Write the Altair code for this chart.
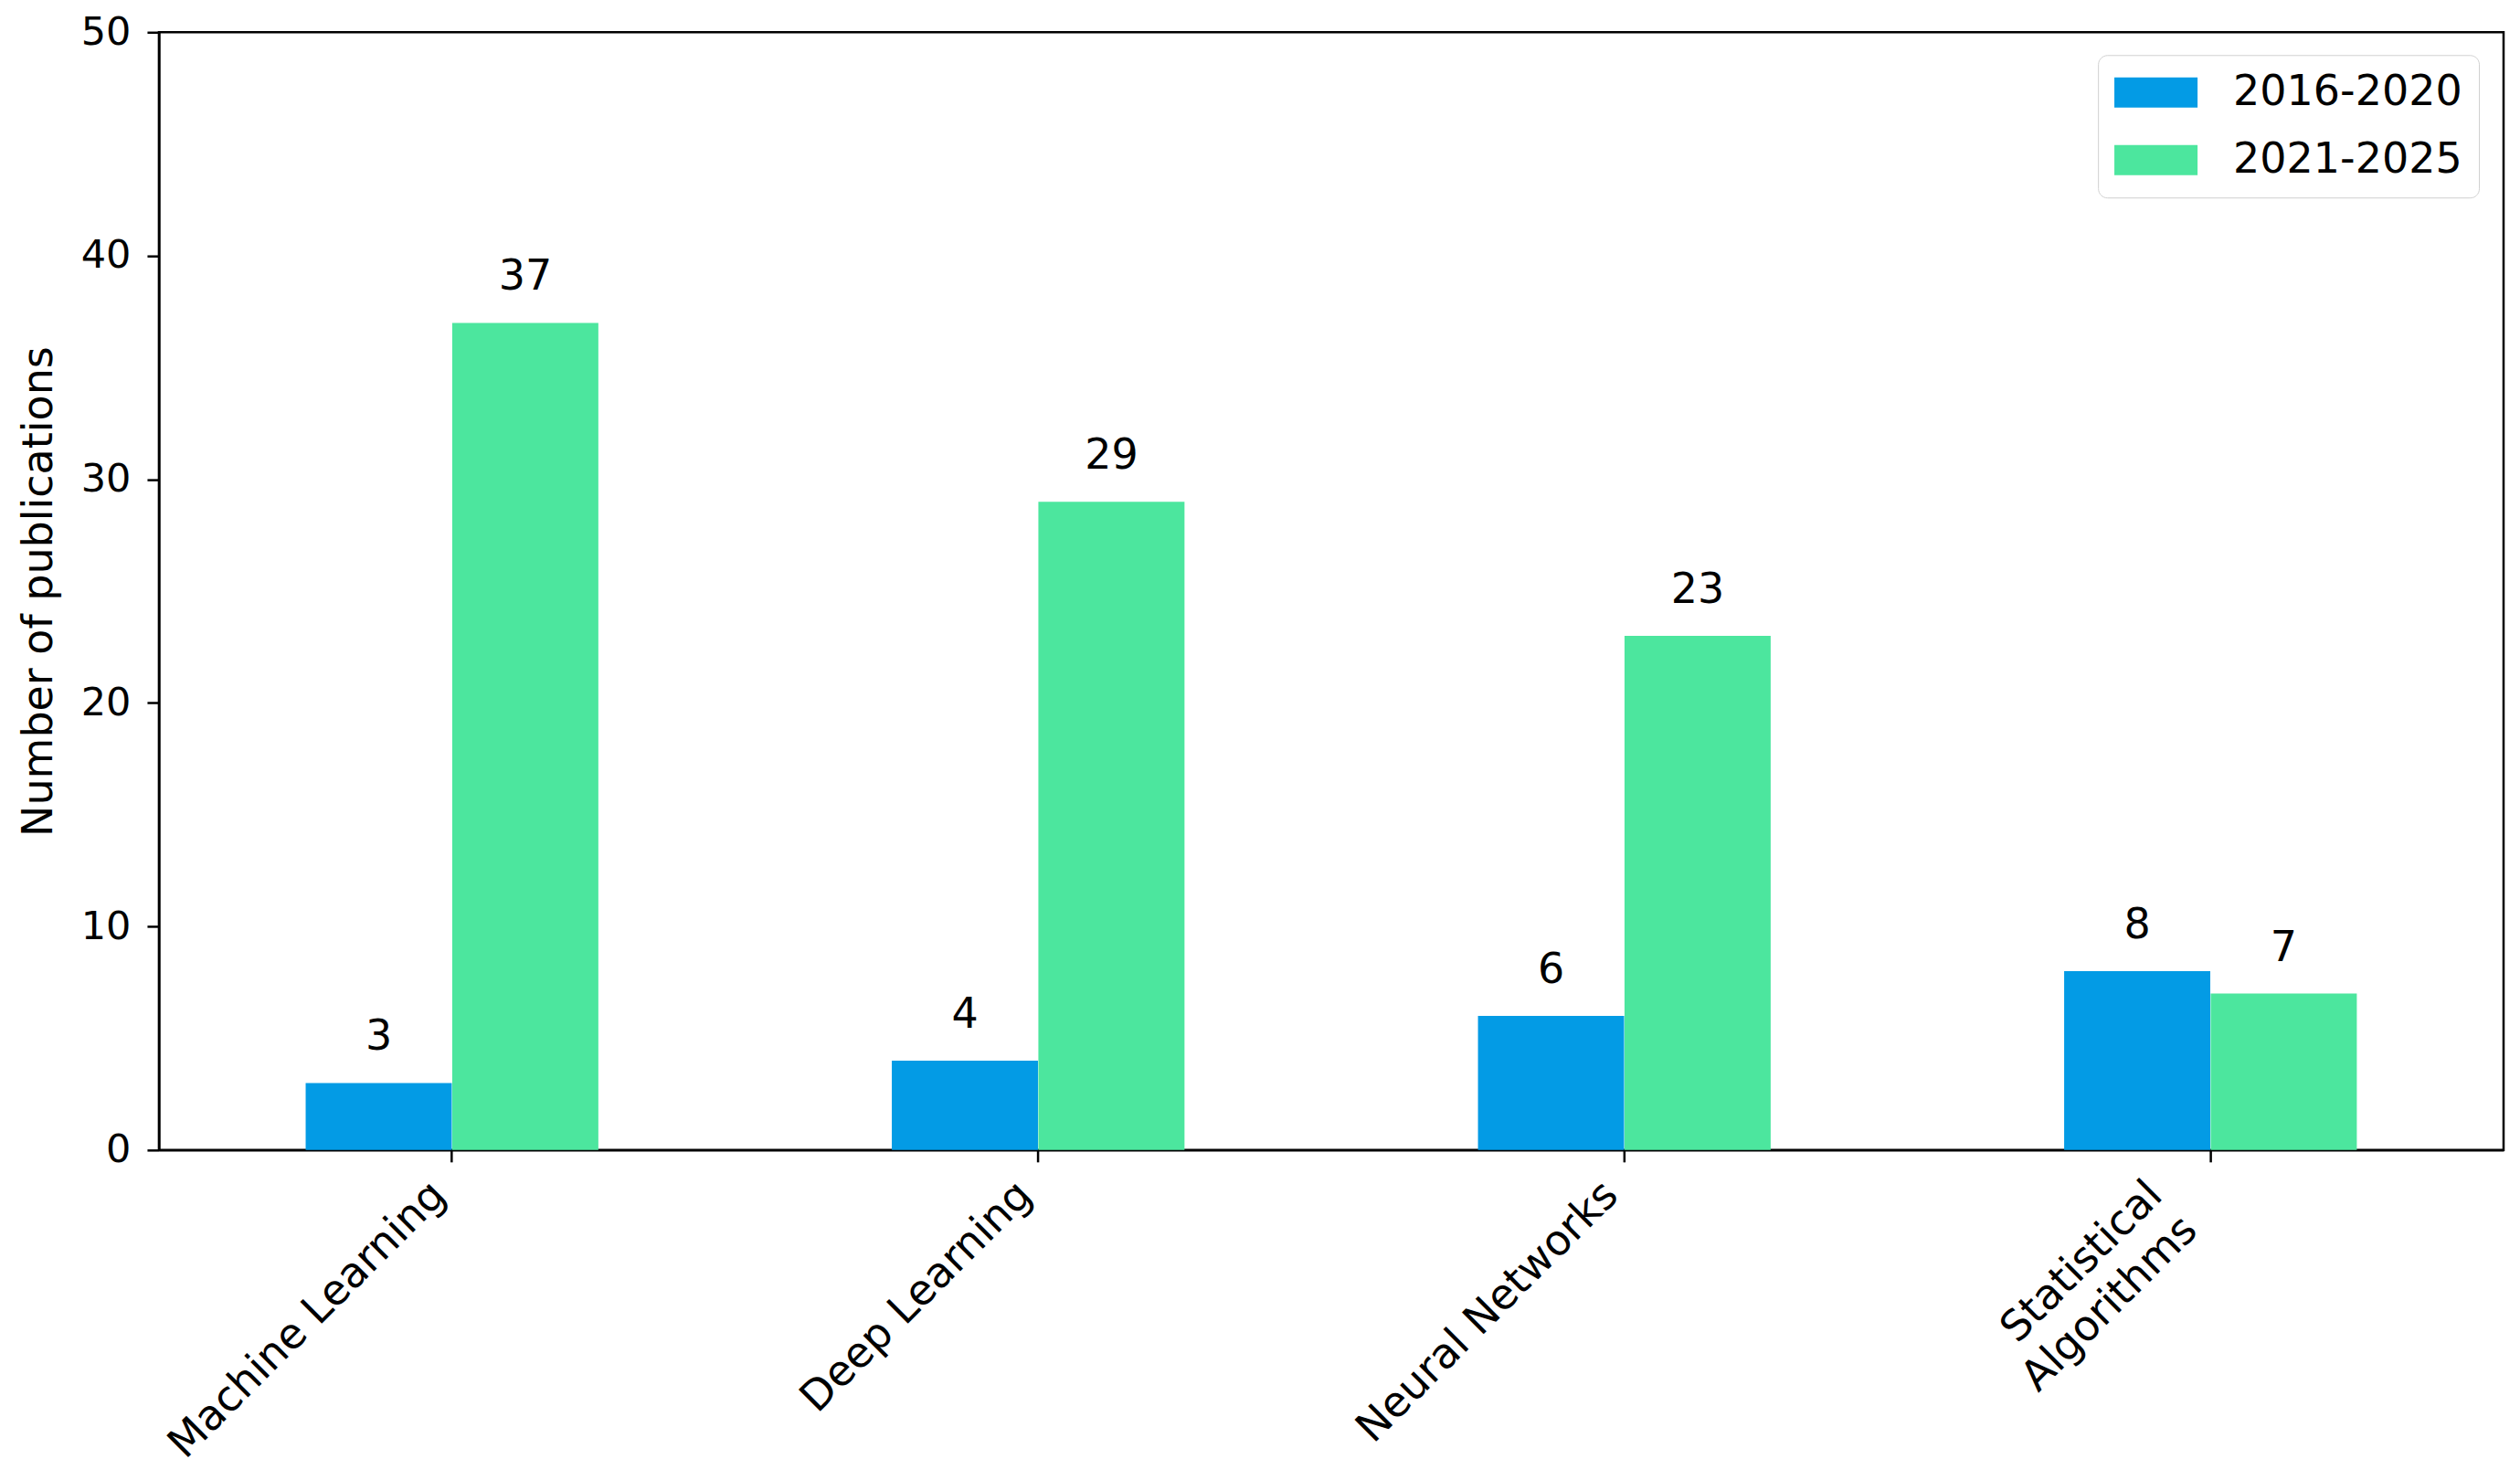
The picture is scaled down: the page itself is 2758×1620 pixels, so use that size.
import altair as alt
import pandas as pd

categories = ["Machine Learning", "Deep Learning", "Neural Networks", "Statistical Algorithms"]
periods = ["2016-2020", "2021-2025"]
values_2016_2020 = [3, 4, 6, 8]
values_2021_2025 = [37, 29, 23, 7]
colors = ["#039BE5", "#4CE69E"]
y_ticks = [0, 10, 20, 30, 40, 50]

rows = []
for c, a, b in zip(categories, values_2016_2020, values_2021_2025):
    rows.append({"Category": c, "Period": periods[0], "Count": a})
    rows.append({"Category": c, "Period": periods[1], "Count": b})
df = pd.DataFrame(rows)

FONT = "DejaVu Sans"

x_enc = alt.X(
    "Category:N",
    sort=categories,
    scale=alt.Scale(paddingInner=0.5, paddingOuter=0.25),
    axis=alt.Axis(
        title=None,
        labelAngle=-45,
        labelAlign="right",
        labelBaseline="top",
        labelFontSize=46,
        labelFont=FONT,
        labelColor="black",
        labelPadding=13,
        labelOffset={"condition": {"test": "datum.value == 'Statistical Algorithms'", "value": -76}, "value": -30},
        labelLineHeight=54,
        labelExpr="datum.value == 'Statistical Algorithms' ? ['Statistical', 'Algorithms'] : datum.label",
        tickSize=13,
        tickWidth=2.5,
        tickColor="black",
        domainColor="black",
        domainWidth=2.5,
        labelLimit=1000,
    ),
)
xoff = alt.XOffset("Period:N", sort=periods, scale=alt.Scale(paddingInner=0, paddingOuter=0))
y_enc = alt.Y(
    "Count:Q",
    scale=alt.Scale(domain=[0, 50], nice=False, zero=True),
    axis=alt.Axis(
        title="Number of publications",
        titleFontSize=46,
        titleFont=FONT,
        titleFontWeight="normal",
        titleColor="black",
        titlePadding=22,
        values=y_ticks,
        grid=False,
        labelFontSize=43,
        labelFont=FONT,
        labelColor="black",
        labelPadding=18,
        tickSize=13,
        tickWidth=2.5,
        tickColor="black",
        domainColor="black",
        domainWidth=2.5,
    ),
)

bars = alt.Chart(df).mark_bar(size=160).encode(
    x=x_enc,
    xOffset=xoff,
    y=y_enc,
    color=alt.Color(
        "Period:N",
        sort=periods,
        scale=alt.Scale(domain=periods, range=colors),
        legend=alt.Legend(
            title=None,
            orient="none",
            legendX=2123,
            legendY=25,
            padding=18,
            strokeColor="#d0d0d0",
            fillColor="white",
            cornerRadius=10,
            symbolType="M-1.4,-1L4.12,-1L4.12,1L-1.4,1Z",
            symbolSize=1089,
            symbolStrokeWidth=0,
            symbolOpacity=1,
            labelFontSize=46,
            labelFont=FONT,
            labelColor="black",
            labelOffset=84,
            labelLimit=1000,
            rowPadding=28,
        ),
    ),
)

labels = alt.Chart(df).mark_text(
    baseline="alphabetic", align="center", dy=-36, fontSize=46, font=FONT, color="black"
).encode(
    x=alt.X("Category:N", sort=categories),
    xOffset=alt.XOffset("Period:N", sort=periods),
    y=alt.Y("Count:Q"),
    text=alt.Text("Count:Q"),
)

chart = (
    alt.layer(bars, labels)
    .properties(
        width=2567,
        height=1224,
        autosize=alt.AutoSizeParams(type="none"),
        padding={"left": 166, "top": 27, "right": 10, "bottom": 352},
    )
    .configure(background="white")
    .configure_view(stroke="black", strokeWidth=2.5)
)

chart.save("out.html", embed_options={"renderer": "svg", "actions": False})
